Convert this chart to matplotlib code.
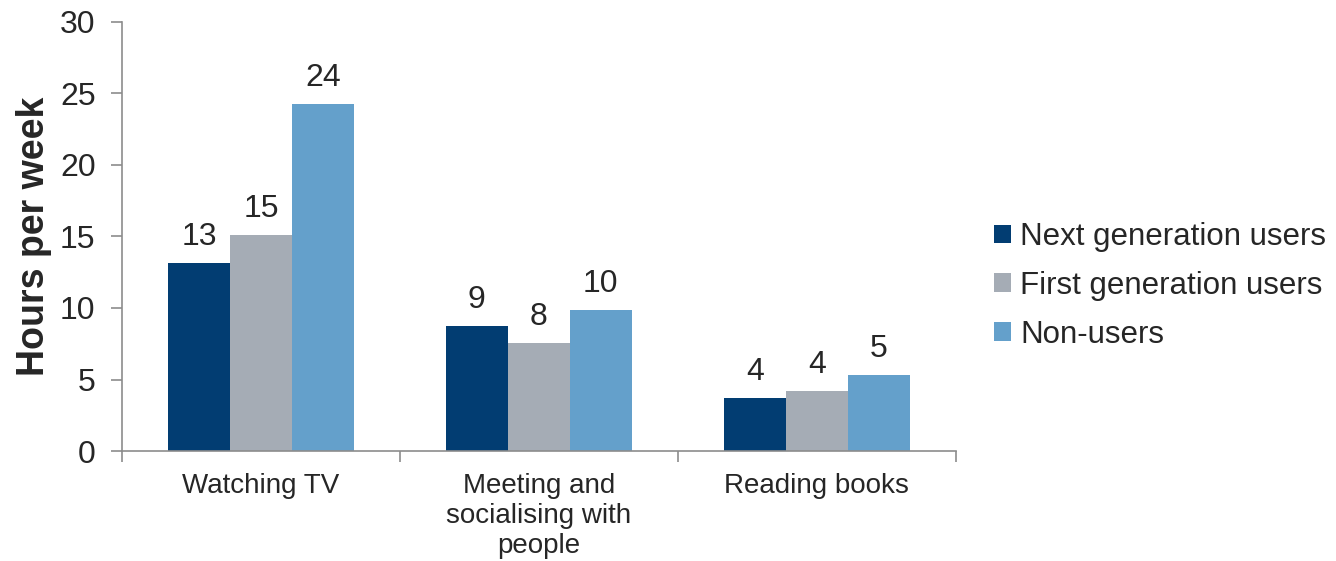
import numpy as np
import matplotlib
matplotlib.use("Agg")
import matplotlib.pyplot as plt
from matplotlib.ticker import FixedLocator

plt.rcParams['font.family'] = ['Liberation Sans', 'DejaVu Sans']

# data
categories = ["Watching TV", "Meeting and\nsocialising with\npeople", "Reading books"]
series_names = ["Next generation users", "First generation users", "Non-users"]
next_gen = [13.15, 8.74, 3.7]
first_gen = [15.1, 7.55, 4.2]
non_users = [24.25, 9.86, 5.3]
labels_next = ["13", "9", "4"]
labels_first = ["15", "8", "4"]
labels_non = ["24", "10", "5"]

colors = ["#023d72", "#a5acb5", "#64a0cb"]
text_col = "#262626"
axis_col = "#8c8c8c"

fig = plt.figure(figsize=(13.36, 5.61), dpi=100)
ax = fig.add_axes([0.0913, 0.196, 0.624, 0.765])

x = np.arange(len(categories))
w = 0.223
all_vals = [next_gen, first_gen, non_users]
all_labels = [labels_next, labels_first, labels_non]
for i, (vals, labs) in enumerate(zip(all_vals, all_labels)):
    bars = ax.bar(x + (i - 1) * w, vals, width=w, color=colors[i],
                  label=series_names[i], zorder=2)
    for b, lab in zip(bars, labs):
        ax.annotate(lab, (b.get_x() + b.get_width() / 2, b.get_height()),
                    xytext=(0, 8), textcoords="offset points",
                    ha="center", va="bottom", fontsize=23, color=text_col)

ax.set_xlim(-0.5, 2.5)
ax.set_ylim(0, 30)
ax.set_yticks(range(0, 31, 5))
ax.tick_params(axis='y', labelsize=23, colors=axis_col, labelcolor=text_col,
               length=8, width=1.2, pad=11)

ax.set_xticks(x)
ax.set_xticklabels(categories, fontsize=20, color=text_col, linespacing=1.2)
ax.tick_params(axis='x', length=0, pad=16)
ax.xaxis.set_minor_locator(FixedLocator([-0.5, 0.5, 1.5, 2.5]))
ax.tick_params(axis='x', which='minor', length=8, width=1.2, colors=axis_col)

for s in ["top", "right"]:
    ax.spines[s].set_visible(False)
for s in ["left", "bottom"]:
    ax.spines[s].set_color(axis_col)
    ax.spines[s].set_linewidth(1.2)

ax.set_ylabel("Hours per week", fontsize=27, fontweight="bold", color=text_col,
              labelpad=6)

leg = ax.legend(loc="center left", bbox_to_anchor=(1.012, 0.385), frameon=False,
                fontsize=22.5, handlelength=0.55, handleheight=0.55,
                handletextpad=0.3, labelspacing=0.6)
for t in leg.get_texts():
    t.set_color(text_col)

fig.savefig("out.png", dpi=100)
